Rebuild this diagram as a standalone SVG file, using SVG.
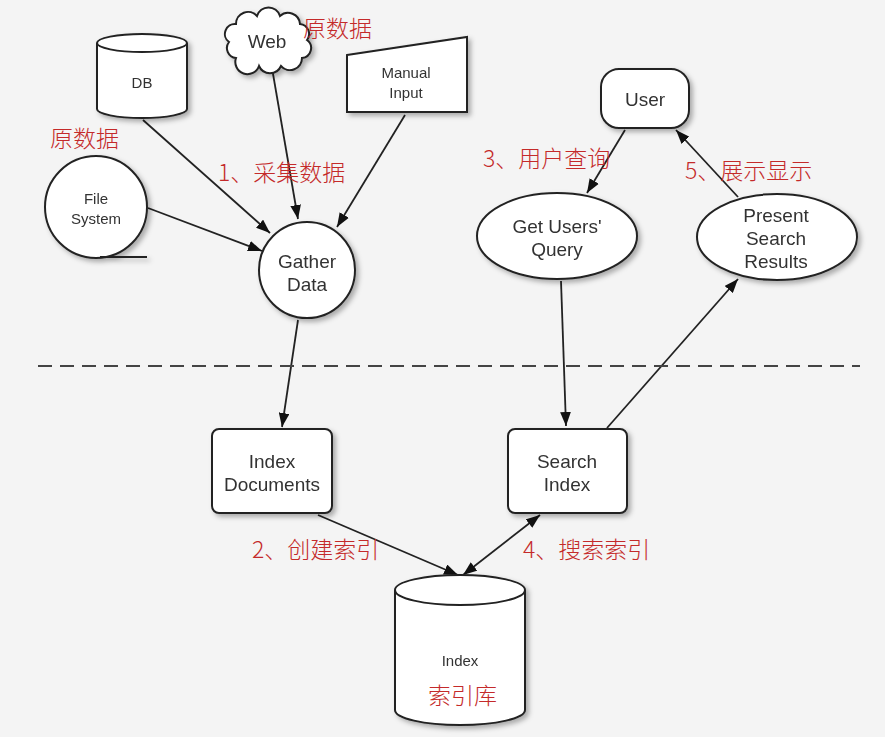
<svg xmlns="http://www.w3.org/2000/svg" width="885" height="737" viewBox="0 0 885 737">
<defs>
<style>
.n{fill:#ffffff;stroke:#222;stroke-width:2}
.t{font-family:"Liberation Sans",Arial,sans-serif;fill:#333;text-anchor:middle}
.big{font-size:19px}
.sm{font-size:15px}
.r{font-family:"Noto Sans CJK SC","Noto Sans",sans-serif;fill:#c42a2a;font-size:23px;font-weight:300}
.c{stroke:#222;stroke-width:1.8;fill:none;marker-end:url(#ah)}
</style>
<marker id="ah" viewBox="0 0 13 10" refX="13" refY="5" markerWidth="14" markerHeight="11" markerUnits="userSpaceOnUse" orient="auto-start-reverse">
<path d="M0,0 L13,5 L0,10 Z" fill="#111"/>
</marker>
<filter id="sh" x="-20%" y="-20%" width="150%" height="150%">
<feDropShadow dx="3" dy="3" stdDeviation="2.5" flood-color="#000" flood-opacity="0.3"/>
</filter>
</defs>
<rect width="885" height="737" fill="#f4f4f4"/>

<g id="connectors">
<line class="c" x1="143" y1="120" x2="270" y2="233"/>
<line class="c" x1="272" y1="68" x2="298" y2="219"/>
<line class="c" x1="405" y1="115" x2="337" y2="227"/>
<line class="c" x1="148" y1="208" x2="262" y2="251"/>
<line class="c" x1="298" y1="320" x2="282" y2="427"/>
<line class="c" x1="625" y1="130" x2="587" y2="193"/>
<line class="c" x1="738" y1="197" x2="676" y2="130"/>
<line class="c" x1="561" y1="281" x2="566" y2="426"/>
<line class="c" x1="607" y1="428" x2="738" y2="279"/>
<line class="c" x1="318" y1="515" x2="458" y2="575"/>
<line class="c" x1="540" y1="515" x2="463" y2="575" style="marker-start:url(#ah)"/>
<line x1="38" y1="366" x2="860" y2="366" stroke="#444" stroke-width="2" stroke-dasharray="14 8"/>
</g>

<g id="db" filter="url(#sh)">
<path class="n" d="M97,43 L97,109 A45,9 0 0 0 187,109 L187,43 A45,9 0 0 0 97,43 Z"/>
<path d="M97,43 A45,9 0 0 0 187,43" fill="none" stroke="#222" stroke-width="2"/>
<text class="t sm" x="142" y="88">DB</text>
</g>

<g id="web" filter="url(#sh)">
<path class="n" d="M236,58 a10,10 0 0 1 -7,-16 a10,10 0 0 1 7,-18 a12,12 0 0 1 21,-8 a12,12 0 0 1 23,0 a12,12 0 0 1 20,8 a10,10 0 0 1 7,16 a10,10 0 0 1 -5,18 a12,12 0 0 1 -21,8 a12,12 0 0 1 -22,0 a12,12 0 0 1 -23,-8 Z"/>
<text class="t big" x="267" y="48">Web</text>
</g>

<g id="manual" filter="url(#sh)">
<polygon class="n" points="347,55 467,37 467,112 347,112"/>
<text class="t sm" x="406" y="78">Manual</text>
<text class="t sm" x="406" y="98">Input</text>
</g>

<g id="filesystem" filter="url(#sh)">
<circle class="n" cx="96" cy="207" r="51"/>
<line x1="100" y1="257" x2="147" y2="257" stroke="#222" stroke-width="2"/>
<text class="t sm" x="96" y="204">File</text>
<text class="t sm" x="96" y="224">System</text>
</g>

<g id="gather" filter="url(#sh)">
<circle class="n" cx="307" cy="270" r="48"/>
<text class="t big" x="307" y="268">Gather</text>
<text class="t big" x="307" y="291">Data</text>
</g>

<g id="user" filter="url(#sh)">
<rect class="n" x="601" y="69" width="88" height="59" rx="18" ry="18"/>
<text class="t big" x="645" y="106">User</text>
</g>

<g id="getquery" filter="url(#sh)">
<ellipse class="n" cx="557" cy="236" rx="80" ry="43"/>
<text class="t big" x="557" y="233">Get Users'</text>
<text class="t big" x="557" y="256">Query</text>
</g>

<g id="present" filter="url(#sh)">
<ellipse class="n" cx="777" cy="237" rx="80" ry="43"/>
<text class="t big" x="776" y="222">Present</text>
<text class="t big" x="776" y="245">Search</text>
<text class="t big" x="776" y="268">Results</text>
</g>

<g id="indexdocs" filter="url(#sh)">
<rect class="n" x="212" y="429" width="120" height="84" rx="7"/>
<text class="t big" x="272" y="468">Index</text>
<text class="t big" x="272" y="491">Documents</text>
</g>

<g id="searchindex" filter="url(#sh)">
<rect class="n" x="508" y="429" width="119" height="84" rx="7"/>
<text class="t big" x="567" y="468">Search</text>
<text class="t big" x="567" y="491">Index</text>
</g>

<g id="index" filter="url(#sh)">
<path class="n" d="M395,590 L395,710 A65,15 0 0 0 525,710 L525,590 A65,15 0 0 0 395,590 Z"/>
<path d="M395,590 A65,15 0 0 0 525,590" fill="none" stroke="#222" stroke-width="2"/>
<text class="t sm" x="460" y="666">Index</text>
</g>

<g id="labels">
<text class="r" x="303" y="37">原数据</text>
<text class="r" x="50" y="147">原数据</text>
<text class="r" x="218" y="181">1、采集数据</text>
<text class="r" x="483" y="167">3、用户查询</text>
<text class="r" x="685" y="179">5、展示显示</text>
<text class="r" x="252" y="558">2、创建索引</text>
<text class="r" x="523" y="558">4、搜索索引</text>
<text class="r" x="428" y="704">索引库</text>
</g>
</svg>
